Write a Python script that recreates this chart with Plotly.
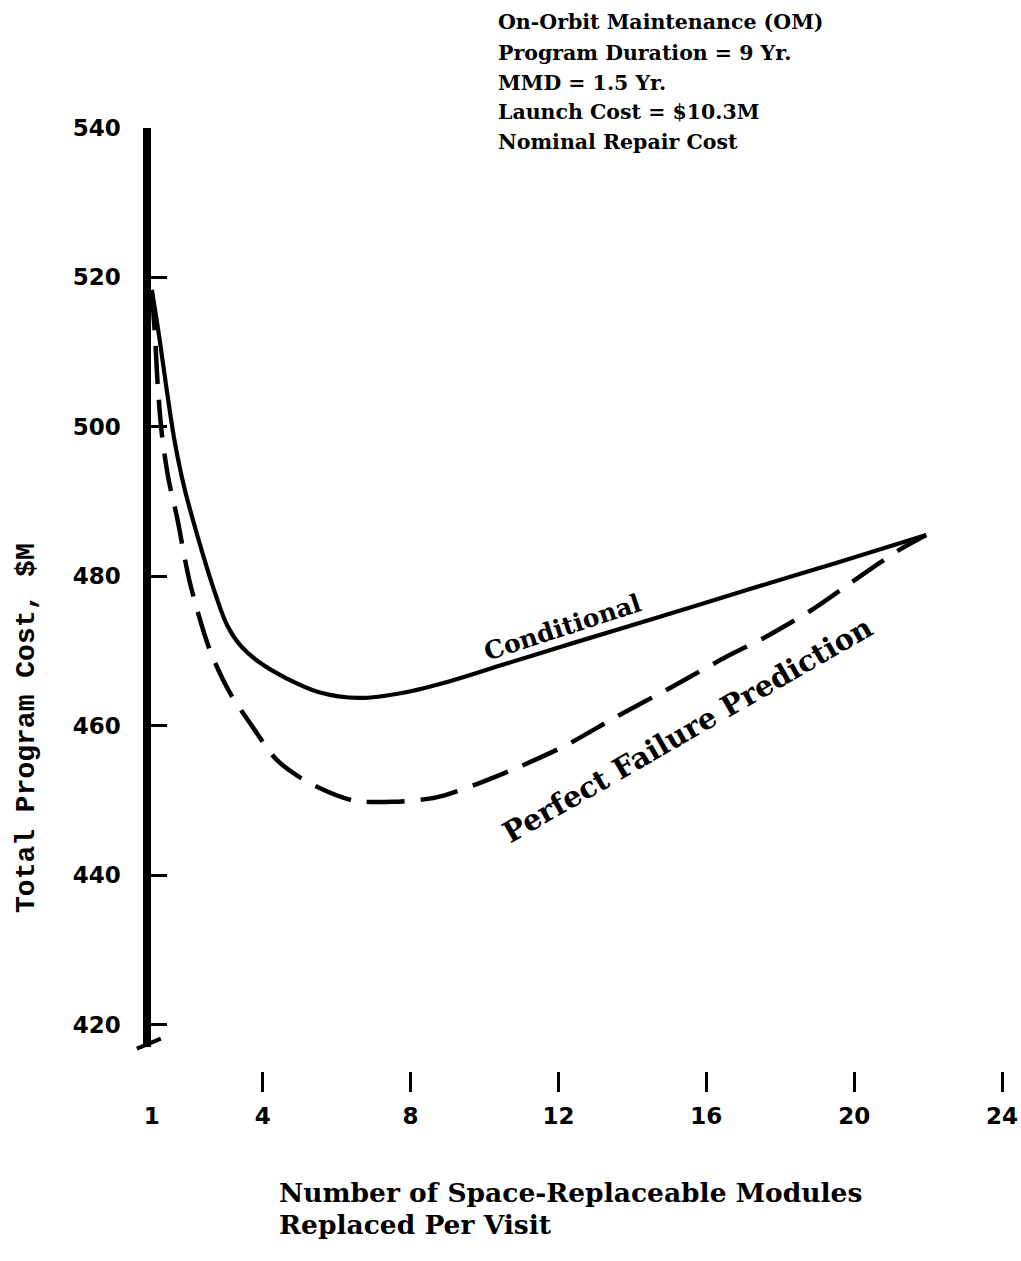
import plotly.graph_objects as go

# ---- data ----
cond_x = [1.0, 1.2, 1.4, 1.6, 1.8, 2.0, 2.76, 3.05, 3.4, 3.9, 4.65, 5.5, 6.6, 7.8, 9.1, 10.4, 12.3, 14.5, 17.2, 19.4, 21.95]
cond_y = [518.3, 512.0, 505.0, 498.5, 493.5, 489.5, 477.0, 473.3, 470.7, 468.5, 466.3, 464.5, 463.7, 464.4, 466.0, 468.0, 470.9, 474.2, 478.3, 481.6, 485.5]

pfp_x = [1.0, 1.08, 1.16, 1.27, 1.45, 1.68, 2.03, 2.57, 3.11, 3.73, 4.38, 5.27, 6.43, 7.51, 8.7, 9.86, 10.95, 12.22, 13.57, 15.08, 16.54, 17.62, 18.86, 20.14, 21.22, 21.95]
pfp_y = [518.0, 512.6, 505.5, 499.0, 493.0, 487.9, 479.1, 470.1, 464.4, 459.8, 455.4, 452.3, 450.0, 449.8, 450.4, 452.3, 454.5, 457.4, 461.2, 465.2, 469.2, 471.9, 475.5, 479.9, 483.5, 485.5]

x_tick_vals = [1, 4, 8, 12, 16, 20, 24]
x_tick_text = ["1", "4", "8", "12", "16", "20", "24"]
x_tick_marks = [4, 8, 12, 16, 20, 24]
y_tick_vals = [420, 440, 460, 480, 500, 520, 540]

info_lines = [
    "On-Orbit Maintenance (OM)",
    "Program Duration = 9 Yr.",
    "MMD = 1.5 Yr.",
    "Launch Cost = $10.3M",
    "Nominal Repair Cost",
]
x_title_lines = ["Number of Space-Replaceable Modules", "Replaced Per Visit"]
y_title = "Total Program Cost, $M"

# ---- layout geometry (pixels of the 1021x1261 page) ----
W, H = 1021, 1261


def vy(y):
    # vertical correction measured from the rendered page
    return (y - 13.6) / 0.9875


X_RANGE = [0.6, 24.4]
Y_RANGE = [417, 540]
px_left, px_right = 137.2, 1017.8
py_top, py_bottom = vy(128.0), vy(1045.3)
xd = [px_left / W, px_right / W]
yd = [1 - py_bottom / H, 1 - py_top / H]
AXIS_X = 0.88
yaxis_pos = xd[0] + (AXIS_X - X_RANGE[0]) / (X_RANGE[1] - X_RANGE[0]) * (xd[1] - xd[0])


def px(x):
    return x / W


def py(y):
    return 1 - vy(y) / H


SERIF = "DejaVu Serif"
SANS = "DejaVu Sans"

fig = go.Figure()
fig.add_trace(go.Scatter(
    x=cond_x, y=cond_y, mode="lines", name="Conditional",
    line=dict(color="black", width=4.2, shape="spline", smoothing=1.0),
    showlegend=False, hoverinfo="skip",
))
fig.add_trace(go.Scatter(
    x=pfp_x, y=pfp_y, mode="lines", name="Perfect Failure Prediction",
    line=dict(color="black", width=4.5, shape="spline", smoothing=0.8, dash="38px,16px"),
    showlegend=False, hoverinfo="skip",
))

annotations = []
info_y = [23, 54, 83, 112, 142]
for txt, yy in zip(info_lines, info_y):
    annotations.append(dict(
        text=txt, x=px(496), y=py(yy), xref="paper", yref="paper",
        xanchor="left", yanchor="middle", showarrow=False,
        font=dict(family=SERIF, size=20.5, color="black", weight="bold"),
    ))
for txt, yy in zip(x_title_lines, [1190, 1222]):
    annotations.append(dict(
        text=txt, x=px(277), y=py(yy), xref="paper", yref="paper",
        xanchor="left", yanchor="middle", showarrow=False,
        font=dict(family=SERIF, size=26.5, color="black", weight="bold"),
    ))
annotations.append(dict(
    text=y_title, x=px(27), y=py(727), xref="paper", yref="paper",
    xanchor="center", yanchor="middle", showarrow=False, textangle=-90,
    font=dict(family="Liberation Mono", size=28, color="black", weight="bold"),
))
annotations.append(dict(
    text="Conditional", x=px(563), y=py(627), xref="paper", yref="paper",
    xanchor="center", yanchor="middle", showarrow=False, textangle=-18,
    font=dict(family=SERIF, size=25, color="black", weight="bold"),
))
annotations.append(dict(
    text="Perfect Failure Prediction", x=px(688), y=py(729), xref="paper", yref="paper",
    xanchor="center", yanchor="middle", showarrow=False, textangle=-30,
    font=dict(family=SERIF, size=29, color="black", weight="bold"),
))

shapes = [
    dict(type="line", xref="paper", yref="paper",
         x0=px(137), y0=py(1047), x1=px(161), y1=py(1037),
         line=dict(color="black", width=4)),
]

fig.update_layout(
    width=W, height=H,
    margin=dict(l=0, r=0, t=0, b=0),
    paper_bgcolor="white", plot_bgcolor="white",
    showlegend=False,
    annotations=annotations,
    shapes=shapes,
    xaxis=dict(
        domain=xd, range=X_RANGE, anchor="free", position=py(1090),
        showline=False, showgrid=False, zeroline=False,
        tickmode="array", tickvals=x_tick_vals, ticktext=x_tick_text,
        ticks="", ticklabelstandoff=8,
        tickfont=dict(family=SANS, size=23, color="black", weight="bold"),
        minor=dict(tickmode="array", tickvals=x_tick_marks, ticks="inside",
                   ticklen=20, tickwidth=3, tickcolor="black", showgrid=False),
    ),
    yaxis=dict(
        domain=yd, range=Y_RANGE, anchor="free", position=yaxis_pos,
        showline=True, linewidth=8, linecolor="black",
        showgrid=False, zeroline=False,
        tickmode="array", tickvals=y_tick_vals,
        ticks="inside", ticklen=16, tickwidth=3, tickcolor="black",
        ticklabelstandoff=18,
        tickfont=dict(family=SANS, size=23, color="black", weight="bold"),
    ),
)

fig.write_html("out.html", config={"displayModeBar": False},
               post_script="document.body.style.margin='0';")
